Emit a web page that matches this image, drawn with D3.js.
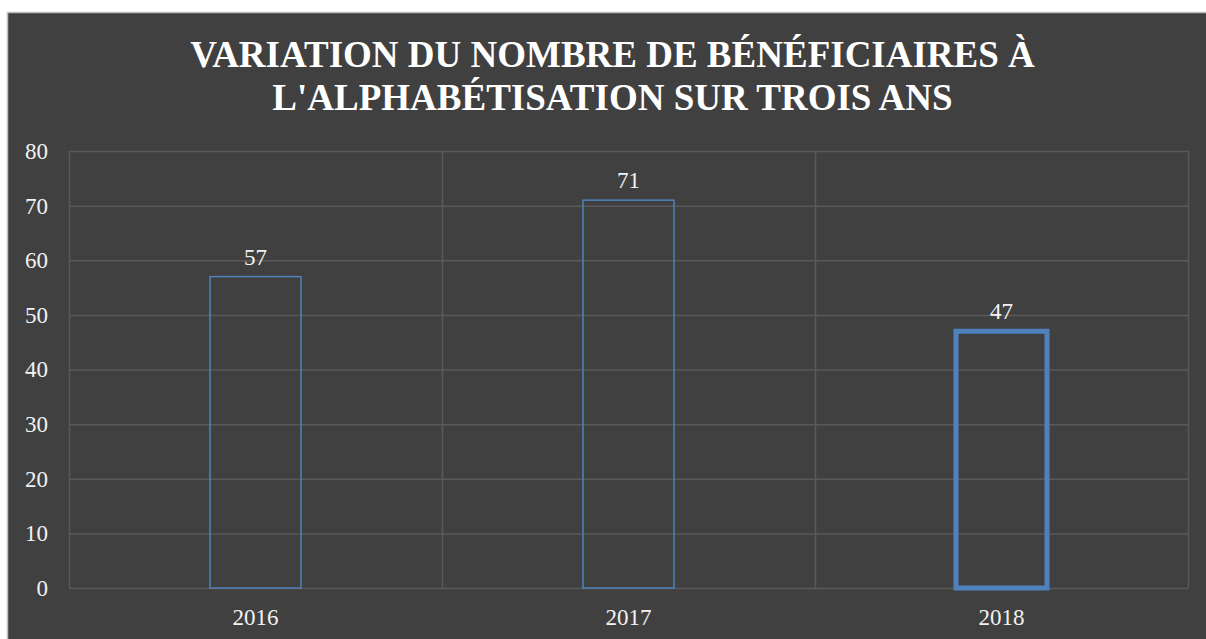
<!DOCTYPE html>
<html><head><meta charset="utf-8">
<script src="https://cdn.jsdelivr.net/npm/d3@7/dist/d3.min.js"></script>
<style>html,body{margin:0;padding:0;background:#fff;}svg{display:block;}</style>
</head><body>
<script>
const categories = ["2016", "2017", "2018"];
const values = [57, 71, 47];
const yTicks = [0, 10, 20, 30, 40, 50, 60, 70, 80];
const titleLines = ["VARIATION DU NOMBRE DE BÉNÉFICIAIRES À", "L'ALPHABÉTISATION SUR TROIS ANS"];
const strokeWidths = [1.5, 1.5, 5];

const W = 1206, H = 639;
const FONT = "Liberation Serif";
const svg = d3.select("body").append("svg").attr("width", W).attr("height", H);

svg.append("rect").attr("x", 7.5).attr("y", 12.5).attr("width", W).attr("height", H)
  .attr("fill", "#404040").attr("stroke", "#bfbfbf").attr("stroke-width", 1.5);

const m = {left: 69, right: 1188, top: 151, bottom: 588};
const x = d3.scaleBand().domain(categories).range([m.left, m.right]).paddingInner(0).paddingOuter(0);
const y = d3.scaleLinear().domain([0, 80]).range([m.bottom, m.top]);

svg.append("g").selectAll("line").data(yTicks).join("line")
  .attr("x1", m.left).attr("x2", m.right)
  .attr("y1", d => y(d) + 0.5).attr("y2", d => y(d) + 0.5)
  .attr("stroke", "#595959").attr("stroke-width", 1.5);
const edges = categories.map(c => x(c)).concat([m.right]);
svg.append("g").selectAll("line").data(edges).join("line")
  .attr("x1", d => d + 0.5).attr("x2", d => d + 0.5)
  .attr("y1", m.top).attr("y2", m.bottom)
  .attr("stroke", "#595959").attr("stroke-width", 1.5);

const yAxis = d3.axisLeft(y).tickValues(yTicks).tickSize(0).tickPadding(0);
const ya = svg.append("g").attr("transform", `translate(48,0)`).call(yAxis)
  .attr("font-family", FONT).attr("font-size", 23);
ya.select(".domain").remove();
ya.selectAll("text").attr("fill", "#f2f2f2").style("font-family", FONT).style("font-size", "23px");

const xAxis = d3.axisBottom(x).tickSize(0).tickPadding(0);
const xa = svg.append("g").attr("transform", `translate(0,${m.bottom + 21})`).call(xAxis)
  .attr("font-family", FONT).attr("font-size", 23);
xa.select(".domain").remove();
xa.selectAll("text").attr("fill", "#f2f2f2").style("font-family", FONT).style("font-size", "23px");

const bw = 91;
svg.append("g").selectAll("rect").data(values).join("rect")
  .attr("x", (d, i) => x(categories[i]) + x.bandwidth() / 2 - bw / 2)
  .attr("y", d => y(d))
  .attr("width", bw)
  .attr("height", d => y(0) - y(d))
  .attr("fill", "none")
  .attr("stroke", "#4f81bd")
  .attr("stroke-width", (d, i) => strokeWidths[i]);

svg.append("g").selectAll("text").data(values).join("text")
  .attr("x", (d, i) => x(categories[i]) + x.bandwidth() / 2)
  .attr("y", d => y(d) - 12)
  .attr("text-anchor", "middle")
  .attr("fill", "#f2f2f2").style("font-family", FONT).style("font-size", "23px")
  .text(d => d);

svg.append("g").selectAll("text").data(titleLines).join("text")
  .attr("x", 612.5).attr("y", (d, i) => 67 + i * 43)
  .attr("text-anchor", "middle")
  .attr("fill", "#ffffff").style("font-family", FONT).style("font-size", "37px").style("font-weight", "bold")
  .text(d => d);
</script>
</body></html>
